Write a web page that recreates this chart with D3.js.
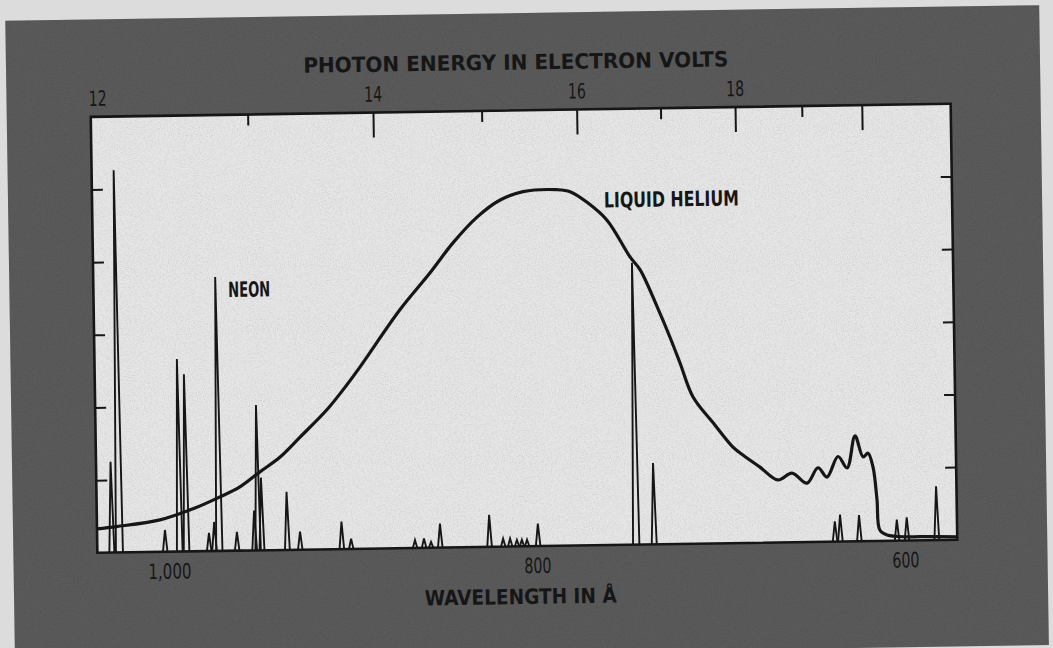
<!DOCTYPE html>
<html>
<head>
<meta charset="utf-8">
<script src="https://cdn.jsdelivr.net/npm/d3@7"></script>
<style>
  body { margin: 0; background: #dcdcdc; }
  svg { display: block; }
</style>
</head>
<body>
<svg id="chart" width="1053" height="648"></svg>
<script>
// photon energy ticks (eV) on the top axis, labels only on the even ones
var energyTicks = [12, 13, 14, 15, 16, 17, 18, 19, 20];
var energyLabels = [12, 14, 16, 18];
var wavelengthLabels = [1000, 800, 600];
var intensityTicks = [1, 2, 3, 4, 5];

// liquid helium emission curve, wavelength in angstrom vs relative intensity
var heliumWavelength = [1039, 1028.3, 1004.7, 986.7, 971.9, 961.0, 950.0, 938.9, 927.9, 913.1,
    902.0, 894.8, 872.6, 856.0, 843.2, 829.9, 817.2, 804.7, 786.2, 779.1,
    770.0, 759.3, 747.1, 741.7, 732.8, 726.1, 720.8, 714.0, 703.3, 692.7,
    688.9, 678.2, 668.5, 660.9, 652.8, 646.7, 641.9, 635.7, 630.9, 626.3,
    622.1, 619.4, 616.8, 614.9, 613.6, 609.7, 599.0, 591.8, 571.6];
var heliumIntensity = [0.33, 0.357, 0.44, 0.585, 0.744, 0.877, 1.08, 1.28, 1.55, 1.92,
    2.26, 2.50, 3.28, 3.78, 4.19, 4.54, 4.77, 4.88, 4.90, 4.87,
    4.72, 4.47, 3.96, 3.78, 3.27, 2.85, 2.49, 2.02, 1.66, 1.32,
    1.24, 1.04, 0.86, 0.95, 0.81, 1.02, 0.89, 1.17, 1.01, 1.45,
    1.16, 1.21, 1.02, 0.57, 0.15, 0.08, 0.05, 0.05, 0.04];

// neon lines
var neonWavelength = [1031.1, 1027.0, 1002.1, 994.2, 990.5, 978.2, 975.3, 972.7, 963.0, 953.5,
    951.6, 949.5, 935.7, 928.7, 906.1, 901.0, 866.3, 861.4, 857.6, 852.6,
    825.8, 818.4, 814.6, 810.9, 808.2, 805.4, 799.4, 746.1, 736.3, 638.0,
    635.1, 624.8, 604.3, 598.9, 582.7];
var neonIntensity = [1.25, 5.26, 0.30, 2.65, 2.44, 0.25, 0.40, 3.77, 0.26, 0.55,
    2.0, 1.0, 0.80, 0.25, 0.38, 0.14, 0.11, 0.13, 0.08, 0.33,
    0.44, 0.11, 0.11, 0.09, 0.09, 0.09, 0.31, 3.88, 1.12, 0.28,
    0.37, 0.36, 0.29, 0.32, 0.74];

var hc = 12398.4;
var ink = "#161616";
var font = "'Liberation Sans Narrow', 'DejaVu Sans Condensed', 'Liberation Sans', sans-serif";

var svg = d3.select("#chart");

// grain so the flat greys look like the printed page
var defs = svg.append("defs");
var grain = defs.append("filter")
    .attr("id", "grain")
    .attr("x", 0).attr("y", 0).attr("width", 1).attr("height", 1);
grain.append("feTurbulence")
    .attr("type", "fractalNoise")
    .attr("baseFrequency", 0.85)
    .attr("numOctaves", 2)
    .attr("seed", 3);
grain.append("feColorMatrix")
    .attr("type", "matrix")
    .attr("values", "0 0 0 0 0  0 0 0 0 0  0 0 0 0 0  0 0 0 -1.3 0.75");

// the printed page is scanned a bit crooked
var g = svg.append("g")
    .attr("transform", "rotate(-0.87, 524, 328)");

g.append("rect")
    .attr("x", 10)
    .attr("y", 13)
    .attr("width", 1034)
    .attr("height", 640)
    .attr("fill", "#5a5a5a");

var plotL = 94, plotR = 954, plotT = 110.3, plotB = 546.3;

var x = d3.scaleLinear()
    .domain([1039, 571.6])
    .range([plotL, plotR]);

var y = d3.scaleLinear()
    .domain([0, 6])
    .range([plotB, plotT]);

g.append("rect")
    .attr("x", plotL)
    .attr("y", plotT)
    .attr("width", plotR - plotL)
    .attr("height", plotB - plotT)
    .attr("fill", "#e6e6e6");

g.append("rect")
    .attr("x", 10)
    .attr("y", 13)
    .attr("width", 1034)
    .attr("height", 640)
    .attr("filter", "url(#grain)")
    .attr("opacity", 0.18);

// neon spikes
g.selectAll(".neon")
    .data(neonWavelength)
    .enter()
    .append("path")
    .attr("class", "neon")
    .attr("d", function(d, i) {
        var hw = 2.2 + 0.25 * neonIntensity[i];
        return "M" + (x(d) - hw) + "," + y(0) +
            "L" + x(d) + "," + y(neonIntensity[i]) +
            "L" + (x(d) + hw) + "," + y(0);
    })
    .attr("fill", "none")
    .attr("stroke", ink)
    .attr("stroke-width", 1.9)
    .attr("stroke-linejoin", "miter");

// helium curve
var heliumData = heliumWavelength.map(function(d, i) {
    return { l: d, v: heliumIntensity[i] };
});

var line = d3.line()
    .x(d => x(d.l))
    .y(d => y(d.v))
    .curve(d3.curveCatmullRom.alpha(0.5));

g.append("path")
    .datum(heliumData)
    .attr("d", line)
    .attr("fill", "none")
    .attr("stroke", ink)
    .attr("stroke-width", 3.2)
    .attr("stroke-linejoin", "round");

// top axis: photon energy
var topAx = d3.axisTop(x)
    .tickValues(energyTicks.map(e => hc / e))
    .tickSize(-10)
    .tickPadding(11)
    .tickFormat(function(d) {
        var e = Math.round(hc / d);
        return energyLabels.indexOf(e) >= 0 ? e : "";
    });

var topG = g.append("g")
    .attr("transform", "translate(0," + plotT + ")")
    .call(topAx);
topG.select(".domain").remove();
topG.selectAll(".tick line")
    .attr("stroke", ink)
    .attr("stroke-width", 2)
    .attr("y2", function(d) {
        var e = Math.round(hc / d);
        if (e == 12) return 0;
        return e % 2 == 0 ? 25 : 11;
    });
topG.selectAll(".tick text")
    .attr("fill", ink)
    .style("font-family", font)
    .style("font-size", "21px")
    .attr("lengthAdjust", "spacingAndGlyphs")
    .attr("textLength", function(d) { return this.textContent ? 18 : null; })
    .attr("dx", d => Math.round(hc / d) == 12 ? -4 : 0);

// bottom axis: wavelength
var botAx = d3.axisBottom(x)
    .tickValues(wavelengthLabels)
    .tickSize(0)
    .tickPadding(12)
    .tickFormat(d3.format(","));

var botG = g.append("g")
    .attr("transform", "translate(0," + plotB + ")")
    .call(botAx);
botG.select(".domain").remove();
botG.selectAll(".tick text")
    .attr("fill", ink)
    .style("font-family", font)
    .style("font-size", "21px")
    .attr("lengthAdjust", "spacingAndGlyphs")
    .attr("textLength", d => d >= 1000 ? 43 : 27);

// side ticks, no labels
var leftG = g.append("g")
    .attr("transform", "translate(" + plotL + ",0)")
    .call(d3.axisLeft(y).tickValues(intensityTicks).tickSize(-11).tickFormat(""));
var rightG = g.append("g")
    .attr("transform", "translate(" + plotR + ",0)")
    .call(d3.axisRight(y).tickValues(intensityTicks).tickSize(-11).tickFormat(""));
[leftG, rightG].forEach(function(a) {
    a.select(".domain").remove();
    a.selectAll(".tick line").attr("stroke", ink).attr("stroke-width", 2);
});

// frame
g.append("rect")
    .attr("x", plotL)
    .attr("y", plotT)
    .attr("width", plotR - plotL)
    .attr("height", plotB - plotT)
    .attr("fill", "none")
    .attr("stroke", ink)
    .attr("stroke-width", 2.6);

// titles
g.append("text")
    .attr("x", 519.8)
    .attr("y", 69.5)
    .attr("text-anchor", "middle")
    .attr("textLength", 425)
    .attr("lengthAdjust", "spacingAndGlyphs")
    .style("font-family", font)
    .style("font-weight", "bold")
    .style("font-size", "21px")
    .attr("fill", ink)
    .text("PHOTON ENERGY IN ELECTRON VOLTS");

g.append("text")
    .attr("x", 516.6)
    .attr("y", 604)
    .attr("text-anchor", "middle")
    .attr("textLength", 192)
    .attr("lengthAdjust", "spacingAndGlyphs")
    .style("font-family", font)
    .style("font-weight", "bold")
    .style("font-size", "21px")
    .attr("fill", ink)
    .text("WAVELENGTH IN Å");

g.append("text")
    .attr("x", 228.8)
    .attr("y", 292.5)
    .attr("textLength", 42)
    .attr("lengthAdjust", "spacingAndGlyphs")
    .style("font-family", font)
    .style("font-weight", "600")
    .style("font-size", "21px")
    .attr("fill", ink)
    .text("NEON");

g.append("text")
    .attr("x", 605.8)
    .attr("y", 208.7)
    .attr("textLength", 135)
    .attr("lengthAdjust", "spacingAndGlyphs")
    .style("font-family", font)
    .style("font-weight", "600")
    .style("font-size", "21px")
    .attr("fill", ink)
    .text("LIQUID HELIUM");
</script>
</body>
</html>
